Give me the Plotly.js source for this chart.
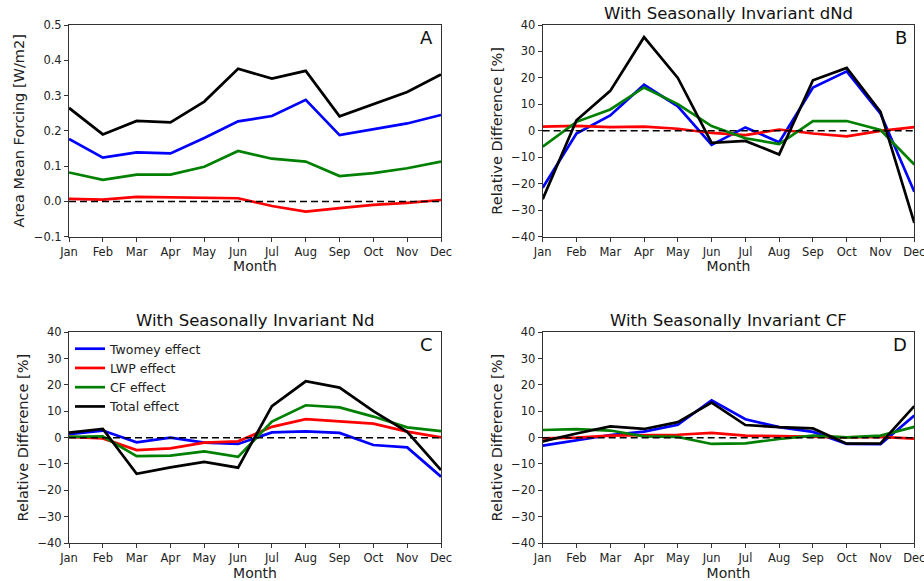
<!DOCTYPE html>
<html><head><meta charset="utf-8">
<script src="https://cdn.plot.ly/plotly-3.0.1.min.js"></script>
<style>html,body{margin:0;padding:0;background:#fff}#plot{width:924px;height:581px}</style>
</head><body><div id="plot"></div>
<script>
const months = ["Jan","Feb","Mar","Apr","May","Jun","Jul","Aug","Sep","Oct","Nov","Dec"];
const seriesNames = ["Twomey effect","LWP effect","CF effect","Total effect"];
const seriesColors = ["#0000ff","#ff0000","#008000","#000000"];

// Panel A: area mean forcing [W/m2]
const aTwomey = [0.177,0.124,0.139,0.136,0.180,0.227,0.242,0.288,0.188,0.204,0.221,0.245];
const aLWP    = [0.007,0.005,0.013,0.012,0.009,0.009,-0.013,-0.029,-0.019,-0.010,-0.004,0.004];
const aCF     = [0.082,0.061,0.076,0.076,0.098,0.143,0.121,0.113,0.072,0.080,0.094,0.113];
const aTotal  = [0.265,0.190,0.228,0.224,0.283,0.376,0.348,0.370,0.241,0.275,0.310,0.360];

// Panel B: seasonally invariant dNd [%]
const bTwomey = [-21.5,-1.0,5.8,17.4,9.3,-5.3,1.3,-4.3,16.4,22.5,6.5,-23.0];
const bLWP    = [1.6,1.9,1.4,1.6,0.8,-0.8,-1.6,0.5,-1.0,-2.1,0.0,1.4];
const bCF     = [-6.0,3.4,8.1,16.4,10.1,1.8,-2.8,-5.0,3.7,3.7,0.3,-12.7];
const bTotal  = [-25.8,4.0,15.1,35.4,20.0,-4.5,-3.8,-8.9,19.1,23.8,7.2,-34.8];

// Panel C: seasonally invariant Nd [%]
const cTwomey = [1.3,2.7,-1.8,0.0,-1.9,-2.4,2.0,2.4,1.8,-2.8,-3.7,-14.8];
const cLWP    = [0.3,-0.3,-4.7,-4.1,-1.9,-1.4,4.1,7.0,6.2,5.3,2.3,0.1];
const cCF     = [0.3,0.5,-7.0,-6.8,-5.2,-7.3,6.1,12.3,11.5,8.0,3.9,2.5];
const cTotal  = [1.9,3.3,-13.7,-11.3,-9.2,-11.4,12.0,21.4,19.0,10.1,2.2,-12.3];

// Panel D: seasonally invariant CF [%]
const dTwomey = [-3.0,-1.1,1.0,2.3,4.9,14.2,7.0,4.0,2.2,-2.4,-2.5,8.4];
const dLWP    = [-0.3,0.0,0.8,0.9,1.1,1.8,0.8,0.6,0.3,0.1,0.3,-0.4];
const dCF     = [2.9,3.2,2.7,0.5,0.3,-2.4,-2.2,-0.5,0.8,0.1,0.8,4.1];
const dTotal  = [-1.4,1.6,4.3,3.3,5.9,13.3,4.8,4.0,3.5,-2.3,-2.2,12.0];

const panels = [
  {ax:"", data:[aTwomey,aLWP,aCF,aTotal], legend:false},
  {ax:"2", data:[bTwomey,bLWP,bCF,bTotal], legend:false},
  {ax:"3", data:[cTwomey,cLWP,cCF,cTotal], legend:true},
  {ax:"4", data:[dTwomey,dLWP,dCF,dTotal], legend:false}
];

const traces = [];
panels.forEach(p => {
  p.data.forEach((ys,i) => {
    traces.push({
      x: months, y: ys, type:"scatter", mode:"lines",
      name: seriesNames[i], showlegend: p.legend,
      line:{color:seriesColors[i], width:2.7},
      xaxis:"x"+p.ax, yaxis:"y"+p.ax, hoverinfo:"skip"
    });
  });
});

const FAM = "DejaVu Sans, sans-serif";
const font = {family:FAM, color:"#222", size:11.5};
const L = [69/924, 441/924], R = [542.7/924, 914.3/924];
const T = [1-236.7/581, 1-25/581], B = [1-543/581, 1-332.3/581];

function xax(dom, anchor){
  return {domain:dom, anchor:anchor, type:"category", range:[0,11],
    showline:true, mirror:true, linecolor:"#333", linewidth:1,
    ticks:"outside", ticklen:4, tickcolor:"#333", showgrid:false, zeroline:false,
    tickfont:{family:FAM,size:11.5,color:"#222"},
    title:{text:"Month", font:{family:FAM,size:14,color:"#222"}, standoff:3}};
}
function yax(dom, anchor, range, dtick, title, fmt){
  return {domain:dom, anchor:anchor, range:range, dtick:dtick, tick0:0,
    showline:true, mirror:true, linecolor:"#333", linewidth:1,
    ticks:"outside", ticklen:4, tickcolor:"#333", showgrid:false, zeroline:false,
    tickformat:fmt,
    tickfont:{family:FAM,size:11.5,color:"#222"},
    title:{text:title, font:{family:FAM,size:14.5,color:"#222"}, standoff:5}};
}

const shapes = ["","2","3","4"].map(a => ({
  type:"line", xref:"x"+a+" domain", yref:"y"+a, x0:0, x1:1, y0:0, y1:0,
  line:{color:"#000", width:1.5, dash:"7px,4px"}
}));

const ann = [];
const letters = ["A","B","C","D"];
["","2","3","4"].forEach((a,i)=>{
  ann.push({xref:"x"+a+" domain", yref:"y"+a+" domain", x:0.985, y:1.0, xanchor:"right", yanchor:"top",
    text:letters[i], showarrow:false, font:{family:FAM,size:18,color:"#111"}});
});
const titles = [null,"With Seasonally Invariant dNd","With Seasonally Invariant Nd","With Seasonally Invariant CF"];
["","2","3","4"].forEach((a,i)=>{
  if(!titles[i]) return;
  ann.push({xref:"x"+a+" domain", yref:"y"+a+" domain", x:0.5, y:1.0, xanchor:"center", yanchor:"bottom",
    text:titles[i], showarrow:false, font:{family:FAM,size:16.5,color:"#111"}});
});

const layout = {
  width:924, height:581, margin:{l:0,r:0,t:0,b:0},
  paper_bgcolor:"#fff", plot_bgcolor:"#fff", font:font,
  xaxis: xax(L,"y"), yaxis: yax(T,"x",[-0.1,0.5],0.1,"Area Mean Forcing [W/m2]",".1f"),
  xaxis2: xax(R,"y2"), yaxis2: yax(T,"x2",[-40,40],10,"Relative Difference [%]","d"),
  xaxis3: xax(L,"y3"), yaxis3: yax(B,"x3",[-40,40],10,"Relative Difference [%]","d"),
  xaxis4: xax(R,"y4"), yaxis4: yax(B,"x4",[-40,40],10,"Relative Difference [%]","d"),
  shapes: shapes, annotations: ann,
  showlegend:true,
  legend:{x:70/924, y:0.425, xanchor:"left", yanchor:"top", bgcolor:"rgba(255,255,255,0)",
    font:{family:FAM,size:12.5,color:"#222"}, tracegroupgap:0, itemwidth:30}
};

Plotly.newPlot("plot", traces, layout, {staticPlot:true, displayModeBar:false});
</script></body></html>
